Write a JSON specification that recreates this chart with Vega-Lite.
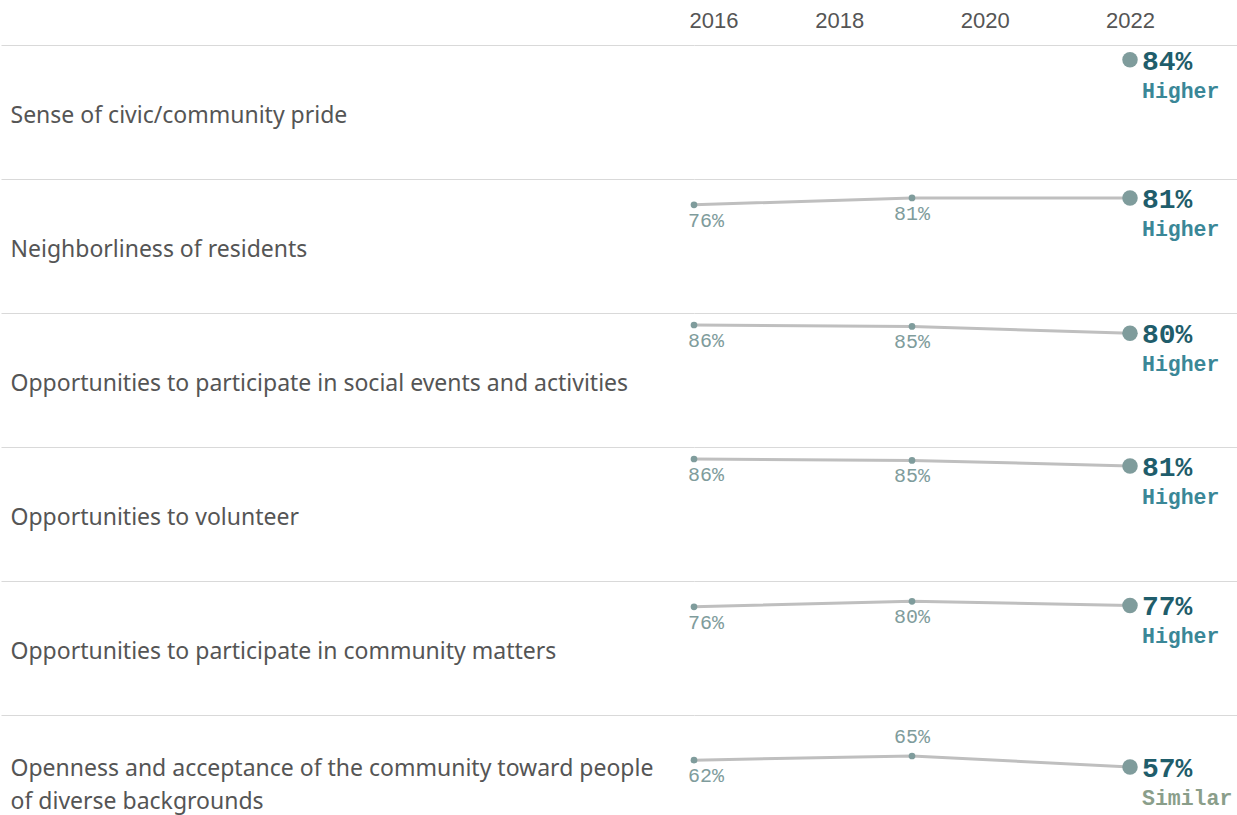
{
  "$schema": "https://vega.github.io/schema/vega-lite/v6.json",
  "width": 545,
  "height": 804,
  "padding": {"top": 9, "left": 0, "right": 0, "bottom": 0},
  "background": "white",
  "config": {"view": {"stroke": null}},
  "data": {"values": [
    {"item": "Sense of civic/community pride", "year": 2022, "value": 0.84, "status": "Higher"},
    {"item": "Neighborliness of residents", "year": 2016, "value": 0.76},
    {"item": "Neighborliness of residents", "year": 2019, "value": 0.81},
    {"item": "Neighborliness of residents", "year": 2022, "value": 0.81, "status": "Higher"},
    {"item": "Opportunities to participate in social events and activities", "year": 2016, "value": 0.86},
    {"item": "Opportunities to participate in social events and activities", "year": 2019, "value": 0.85},
    {"item": "Opportunities to participate in social events and activities", "year": 2022, "value": 0.80, "status": "Higher"},
    {"item": "Opportunities to volunteer", "year": 2016, "value": 0.86},
    {"item": "Opportunities to volunteer", "year": 2019, "value": 0.85},
    {"item": "Opportunities to volunteer", "year": 2022, "value": 0.81, "status": "Higher"},
    {"item": "Opportunities to participate in community matters", "year": 2016, "value": 0.76},
    {"item": "Opportunities to participate in community matters", "year": 2019, "value": 0.80},
    {"item": "Opportunities to participate in community matters", "year": 2022, "value": 0.77, "status": "Higher"},
    {"item": "Openness and acceptance of the community toward people of diverse backgrounds", "year": 2016, "value": 0.62},
    {"item": "Openness and acceptance of the community toward people of diverse backgrounds", "year": 2019, "value": 0.65},
    {"item": "Openness and acceptance of the community toward people of diverse backgrounds", "year": 2022, "value": 0.57, "status": "Similar"}
  ]},
  "encoding": {
    "x": {
      "field": "year", "type": "quantitative",
      "scale": {"domain": [2016, 2023.5], "nice": false, "zero": false},
      "axis": {
        "orient": "top", "title": null, "values": [2016, 2018, 2020, 2022], "format": "d",
        "grid": false, "domain": false, "ticks": false, "tickSize": 0,
        "labelPadding": 13, "labelFont": "Liberation Sans", "labelFontSize": 22,
        "labelColor": "#555555", "labelFlush": true, "labelFlushOffset": 5
      }
    },
    "y": {
      "field": "item", "type": "nominal",
      "sort": [
        "Sense of civic/community pride",
        "Neighborliness of residents",
        "Opportunities to participate in social events and activities",
        "Opportunities to volunteer",
        "Opportunities to participate in community matters",
        "Openness and acceptance of the community toward people of diverse backgrounds"
      ],
      "scale": {"type": "band", "paddingInner": 0, "paddingOuter": 0},
      "axis": {
        "title": null, "orient": "left", "bandPosition": 0,
        "grid": true, "gridColor": "#d9d9d9", "gridWidth": 1,
        "ticks": true, "tickSize": 693, "tickColor": "#d9d9d9", "tickWidth": 1,
        "domain": false,
        "labelAlign": "left", "labelBaseline": "middle", "labelPadding": -9,
        "labelOffset": {"condition": {"test": "datum.value == 'Openness and acceptance of the community toward people of diverse backgrounds'", "value": -13}, "value": 4},
        "labelFont": "Noto Sans", "labelFontSize": 23,
        "labelColor": "#555555", "labelLimit": 700, "labelLineHeight": 33,
        "labelExpr": "datum.label == 'Openness and acceptance of the community toward people of diverse backgrounds' ? ['Openness and acceptance of the community toward people', 'of diverse backgrounds'] : datum.label"
      }
    },
    "yOffset": {
      "field": "value", "type": "quantitative",
      "scale": {"domain": [0.5, 0.9], "range": [61.7, 6.5]}
    }
  },
  "layer": [
    {
      "mark": {"type": "line", "color": "#bfbfbf", "strokeWidth": 3},
      "encoding": {"detail": {"field": "item"}, "order": {"field": "year", "type": "quantitative"}}
    },
    {
      "transform": [{"filter": "datum.year < 2022"}],
      "mark": {"type": "point", "filled": true, "opacity": 1, "size": 45, "color": "#7f9c9c"}
    },
    {
      "transform": [{"filter": "datum.year == 2022"}],
      "mark": {"type": "point", "filled": true, "opacity": 1, "size": 240, "color": "#7f9c9c"}
    },
    {
      "transform": [{"filter": "datum.year == 2016"}],
      "mark": {"type": "text", "align": "left", "baseline": "middle", "dx": -6, "dy": 16, "font": "Liberation Mono", "fontSize": 20, "color": "#7f9c9c"},
      "encoding": {"text": {"field": "value", "type": "quantitative", "format": ".0%"}}
    },
    {
      "transform": [{"filter": "datum.year == 2019 && datum.item != 'Openness and acceptance of the community toward people of diverse backgrounds'"}],
      "mark": {"type": "text", "align": "center", "baseline": "middle", "dy": 16, "font": "Liberation Mono", "fontSize": 20, "color": "#7f9c9c"},
      "encoding": {"text": {"field": "value", "type": "quantitative", "format": ".0%"}}
    },
    {
      "transform": [{"filter": "datum.year == 2019 && datum.item == 'Openness and acceptance of the community toward people of diverse backgrounds'"}],
      "mark": {"type": "text", "align": "center", "baseline": "middle", "dy": -19, "font": "Liberation Mono", "fontSize": 20, "color": "#7f9c9c"},
      "encoding": {"text": {"field": "value", "type": "quantitative", "format": ".0%"}}
    },
    {
      "transform": [{"filter": "datum.year == 2022"}],
      "mark": {"type": "text", "align": "left", "baseline": "middle", "dx": 12, "dy": 2, "font": "Liberation Mono", "fontWeight": "bold", "fontSize": 28, "color": "#1f5d6b"},
      "encoding": {"text": {"field": "value", "type": "quantitative", "format": ".0%"}}
    },
    {
      "transform": [{"filter": "datum.year == 2022"}],
      "mark": {"type": "text", "align": "left", "baseline": "middle", "dx": 12, "dy": 32, "font": "Liberation Mono", "fontWeight": "bold", "fontSize": 21.5},
      "encoding": {
        "text": {"field": "status", "type": "nominal"},
        "color": {"field": "status", "type": "nominal", "scale": {"domain": ["Higher", "Similar"], "range": ["#3a8797", "#8a9e8a"]}, "legend": null}
      }
    }
  ]
}
